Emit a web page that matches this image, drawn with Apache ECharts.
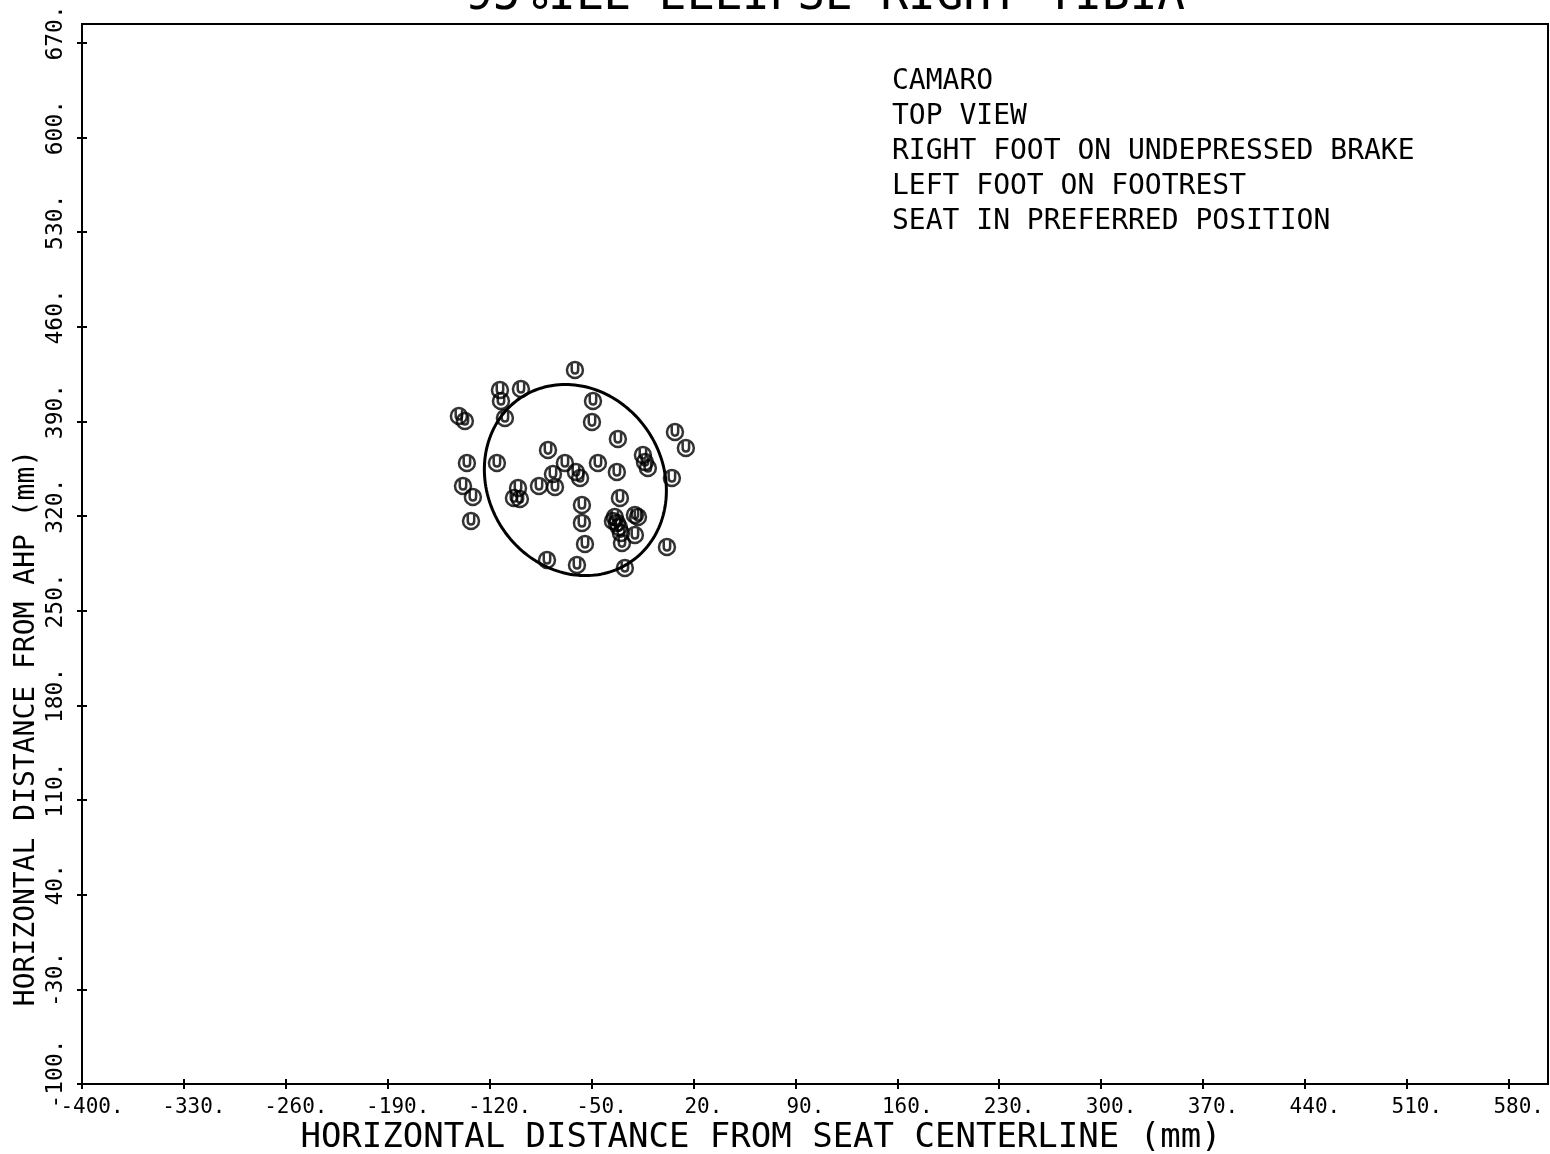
<!DOCTYPE html>
<html><head><meta charset="utf-8">
<script src="https://cdn.jsdelivr.net/npm/echarts@6/dist/echarts.min.js"></script>
<style>html,body{margin:0;padding:0;background:#fff}#c{width:1550px;height:1154px}</style>
</head><body><div id="c"></div>
<script>
const titleText = '95%ILE ELLIPSE RIGHT TIBIA';
const xAxisTitle = 'HORIZONTAL DISTANCE FROM SEAT CENTERLINE (mm)';
const yAxisTitle = 'HORIZONTAL DISTANCE FROM AHP (mm)';
const noteLines = ['CAMARO', 'TOP VIEW', 'RIGHT FOOT ON UNDEPRESSED BRAKE', 'LEFT FOOT ON FOOTREST', 'SEAT IN PREFERRED POSITION'];
const xTicks = [-400, -330, -260, -190, -120, -50, 20, 90, 160, 230, 300, 370, 440, 510, 580];
const yTicks = [-100, -30, 40, 110, 180, 250, 320, 390, 460, 530, 600, 670];
const xRange = [-400, 607];
const yRange = [-100, 684];
const pointsX = [-61.4, -112.9, -98.5, -112.2, -141.1, -137.0, -109.5, -49.0, -49.7, -31.9, 7.3, 14.8,
  -135.6, -115.0, -79.9, -68.3, -76.5, -60.7, -57.9, -75.1, -86.1, -45.6, -32.6, -14.7, -13.3, -11.3, 5.2,
  -138.3, -131.5, -100.5, -103.3, -99.2, -30.5, -56.6, -56.6, -132.8, -34.0, -32.6, -20.2, -18.1,
  -29.8, -20.2, -29.1, -54.5, 1.8, -80.6, -60.0, -27.1, -35.3, -31.2];
const pointsY = [428.1, 413.3, 414.1, 405.2, 394.1, 390.4, 392.6, 405.2, 389.6, 377.1, 382.2, 370.4,
  359.3, 359.3, 368.9, 359.3, 351.2, 352.7, 348.2, 341.6, 342.3, 359.3, 352.7, 365.2, 360.1, 355.6, 348.2,
  342.3, 334.2, 340.8, 333.4, 332.7, 333.4, 328.3, 315.0, 316.4, 319.4, 315.0, 320.9, 319.4,
  307.5, 306.1, 300.1, 299.4, 297.2, 287.6, 283.9, 281.7, 316.4, 312.0];
const ellipseCenter = [-61.1, 346.7];
const ellipseSemiAxes = [61, 72];
const ellipseAngleDeg = 21;

const points = pointsX.map((x, i) => [x, pointsY[i]]);
const ellipse = [];
const th = ellipseAngleDeg * Math.PI / 180;
for (let d = 0; d <= 360; d += 2) {
  const t = d * Math.PI / 180;
  const a = ellipseSemiAxes[0] * Math.cos(t), b = ellipseSemiAxes[1] * Math.sin(t);
  ellipse.push([ellipseCenter[0] + a * Math.cos(th) - b * Math.sin(th),
                ellipseCenter[1] + a * Math.sin(th) + b * Math.cos(th)]);
}
const FONT = '"DejaVu Sans Mono", monospace';
const markerPath = 'path://M10,0 A10,10 0 1,1 9.99,0 Z M6,2 L6,10 Q6,14.5 10,14.5 Q14,14.5 14,10 L14,2';

const chart = echarts.init(document.getElementById('c'), null, {renderer: 'canvas'});
const txt = (o) => Object.assign({type: 'text', silent: true}, o);
const graphics = [
  txt({x: 825, y: 20, style: {text: titleText, font: '46px ' + FONT, fill: '#000', align: 'center', verticalAlign: 'bottom', textAlign: 'center', textVerticalAlign: 'bottom'}}),
  txt({x: 761, y: 1138, style: {text: xAxisTitle, font: '34px ' + FONT, fill: '#000', align: 'center', verticalAlign: 'middle', textAlign: 'center', textVerticalAlign: 'middle'}}),
  txt({x: 27, y: 728, rotation: Math.PI / 2, style: {text: yAxisTitle, font: '28px ' + FONT, fill: '#000', align: 'center', verticalAlign: 'middle', textAlign: 'center', textVerticalAlign: 'middle'}})
];
noteLines.forEach((s, i) => graphics.push(txt({x: 892, y: 82 + 35 * i, style: {text: s, font: '28px ' + FONT, fill: '#000', align: 'left', verticalAlign: 'middle', textAlign: 'left', textVerticalAlign: 'middle'}})));

const tickStyle = {color: '#000', width: 2};
const fmt = v => v + '.';
chart.setOption({
  animation: false,
  backgroundColor: '#fff',
  grid: {left: 82, right: 2, top: 24, bottom: 70, show: true, borderColor: '#000', borderWidth: 2, containLabel: false},
  xAxis: [
    {type: 'value', min: xRange[0], max: xRange[1], position: 'bottom', splitLine: {show: false},
      axisLine: {show: true, onZero: false, lineStyle: {color: '#000', width: 2}},
      axisTick: {show: true, length: 5, customValues: xTicks, lineStyle: tickStyle},
      axisLabel: {customValues: xTicks, margin: 13, formatter: fmt, color: '#000', fontFamily: FONT, fontSize: 21, padding: [0, 0, 0, 20]}},
    {type: 'value', min: xRange[0], max: xRange[1], position: 'bottom', splitLine: {show: false},
      axisLine: {show: false, onZero: false},
      axisTick: {show: true, inside: true, length: 5, customValues: xTicks, lineStyle: tickStyle},
      axisLabel: {show: false}}
  ],
  yAxis: [
    {type: 'value', min: yRange[0], max: yRange[1], position: 'left', splitLine: {show: false},
      axisLine: {show: true, onZero: false, lineStyle: {color: '#000', width: 2}},
      axisTick: {show: true, length: 5, customValues: yTicks, lineStyle: tickStyle},
      axisLabel: {customValues: yTicks, rotate: 90, margin: 14, formatter: fmt, color: '#000', fontFamily: FONT, fontSize: 23, padding: [0, 0, 0, 20]}},
    {type: 'value', min: yRange[0], max: yRange[1], position: 'left', splitLine: {show: false},
      axisLine: {show: false, onZero: false},
      axisTick: {show: true, inside: true, length: 5, customValues: yTicks, lineStyle: tickStyle},
      axisLabel: {show: false}}
  ],
  series: [
    {type: 'line', data: ellipse, showSymbol: false, symbol: 'none', smooth: false,
      lineStyle: {color: '#000', width: 3}, silent: true},
    {type: 'scatter', data: points, symbol: markerPath, symbolSize: 16, symbolKeepAspect: true,
      itemStyle: {color: 'rgba(0,0,0,0)', borderColor: '#000', borderWidth: 2.5}}
  ],
  graphic: graphics
});
</script></body></html>
